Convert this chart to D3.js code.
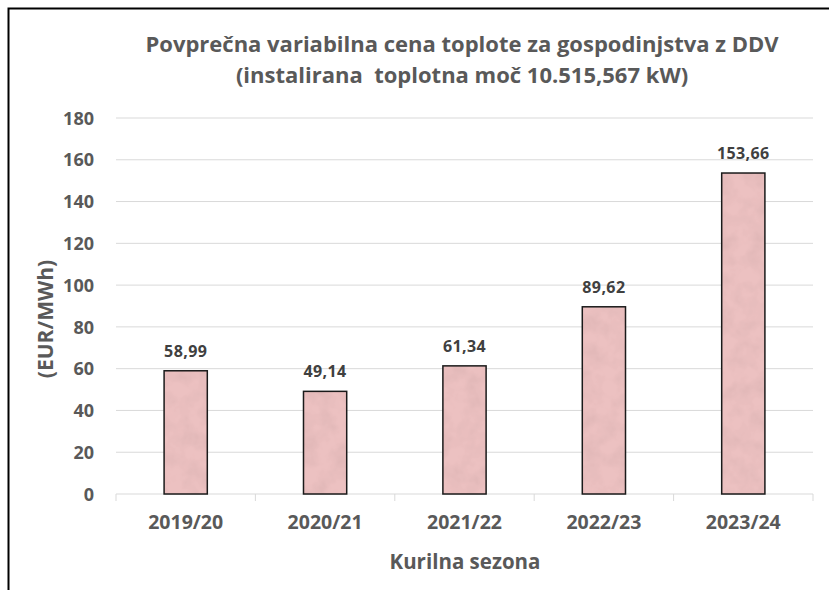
<!DOCTYPE html>
<html>
<head>
    <meta charset="utf-8">
    <title>Povprečna variabilna cena toplote</title>
    <script src="https://d3js.org/d3.v7.min.js"></script>
    <style>
        body { margin: 0; background: #fff; }
        svg { display: block; font-family: "Open Sans", sans-serif; }
    </style>
</head>
<body>
    <svg id="chart"></svg>

    <script>
        // data
        const seasons = ["2019/20", "2020/21", "2021/22", "2022/23", "2023/24"];
        const prices = [58.99, 49.14, 61.34, 89.62, 153.66];
        const yTicks = [0, 20, 40, 60, 80, 100, 120, 140, 160, 180];
        const titleLines = [
            "Povprečna variabilna cena toplote za gospodinjstva z DDV",
            "(instalirana  toplotna moč 10.515,567 kW)"
        ];

        // chart dimensions
        const width = 829;
        const height = 590;
        const margin = { top: 118, right: 16, bottom: 96, left: 116 };

        const svg = d3.select("#chart")
            .attr("width", width)
            .attr("height", height);

        // bar texture (soft tissue-paper look)
        const defs = svg.append("defs");
        const tex = defs.append("filter").attr("id", "tissue")
            .attr("x", 0).attr("y", 0).attr("width", 1).attr("height", 1);
        tex.append("feTurbulence")
            .attr("type", "fractalNoise")
            .attr("baseFrequency", 0.06)
            .attr("numOctaves", 3)
            .attr("seed", 4)
            .attr("result", "noise");
        tex.append("feColorMatrix")
            .attr("in", "noise")
            .attr("type", "matrix")
            .attr("values", "0 0 0 0 0.6  0 0 0 0 0.38  0 0 0 0 0.38  0 0 0 -0.7 0.45")
            .attr("result", "spots");
        tex.append("feComposite")
            .attr("in", "spots").attr("in2", "SourceGraphic")
            .attr("operator", "in").attr("result", "clipped");
        const merge = tex.append("feMerge");
        merge.append("feMergeNode").attr("in", "SourceGraphic");
        merge.append("feMergeNode").attr("in", "clipped");

        // outer frame
        svg.append("rect")
            .attr("x", 8.5).attr("y", 8.5)
            .attr("width", width + 20).attr("height", height + 20)
            .attr("fill", "none")
            .attr("stroke", "#000")
            .attr("stroke-width", 2);

        // scales
        const x = d3.scaleBand()
            .domain(seasons)
            .range([margin.left, width - margin.right]);

        const y = d3.scaleLinear()
            .domain([0, 180])
            .range([height - margin.bottom, margin.top]);

        // gridlines
        svg.append("g")
            .selectAll("line")
            .data(yTicks.filter(d => d > 0))
            .join("line")
            .attr("x1", margin.left)
            .attr("x2", width - margin.right)
            .attr("y1", d => y(d))
            .attr("y2", d => y(d))
            .attr("stroke", "#d9d9d9")
            .attr("stroke-width", 1);

        // y-axis labels
        svg.append("g")
            .attr("transform", `translate(${margin.left}, 0)`)
            .call(d3.axisLeft(y).tickValues(yTicks).tickSize(0).tickPadding(22))
            .call(g => g.select(".domain").remove())
            .selectAll("text")
            .attr("fill", "#595959")
            .attr("dy", "0.34em")
            .style("font-size", "18px")
            .style("font-weight", "700")
            .style("font-family", "'Open Sans', sans-serif");

        // x-axis
        const xAxis = svg.append("g")
            .attr("transform", `translate(0, ${y(0)})`);
        xAxis.append("line")
            .attr("x1", margin.left).attr("x2", width - margin.right)
            .attr("stroke", "#d9d9d9");
        xAxis.selectAll(".tick-mark")
            .data(seasons.concat([null]))
            .join("line")
            .attr("class", "tick-mark")
            .attr("x1", (d, i) => i < seasons.length ? x(d) : x(seasons[i - 1]) + x.bandwidth())
            .attr("x2", (d, i) => i < seasons.length ? x(d) : x(seasons[i - 1]) + x.bandwidth())
            .attr("y1", 0).attr("y2", 7)
            .attr("stroke", "#d9d9d9");
        xAxis.selectAll(".label")
            .data(seasons)
            .join("text")
            .attr("class", "label")
            .attr("x", d => x(d) + x.bandwidth() / 2)
            .attr("y", 35)
            .attr("text-anchor", "middle")
            .attr("fill", "#595959")
            .style("font-size", "19.5px")
            .style("font-weight", "700")
            .text(d => d);

        // bars
        const barW = x.bandwidth() * 0.31;
        const bars = svg.append("g")
            .selectAll("g")
            .data(seasons.map((s, i) => ({ season: s, value: prices[i] })))
            .join("g");

        bars.append("rect")
            .attr("x", d => x(d.season) + (x.bandwidth() - barW) / 2)
            .attr("y", d => y(d.value))
            .attr("width", barW)
            .attr("height", d => y(0) - y(d.value))
            .attr("fill", "#ecc1c1")
            .attr("filter", "url(#tissue)");

        bars.append("rect")
            .attr("x", d => x(d.season) + (x.bandwidth() - barW) / 2)
            .attr("y", d => y(d.value))
            .attr("width", barW)
            .attr("height", d => y(0) - y(d.value))
            .attr("fill", "none")
            .attr("stroke", "#1a1a1a")
            .attr("stroke-width", 1.5);

        // value labels
        bars.append("text")
            .attr("x", d => x(d.season) + x.bandwidth() / 2)
            .attr("y", d => y(d.value) - 14)
            .attr("text-anchor", "middle")
            .attr("fill", "#404040")
            .style("font-size", "16px")
            .style("font-weight", "700")
            .style("letter-spacing", "0.4px")
            .text(d => d3.format(".2f")(d.value).replace(".", ","));

        // title
        svg.append("text")
            .attr("x", 462)
            .attr("text-anchor", "middle")
            .attr("fill", "#595959")
            .style("font-size", "22px")
            .style("font-weight", "700")
            .selectAll("tspan")
            .data(titleLines)
            .join("tspan")
            .attr("x", 462)
            .attr("y", (d, i) => 52 + i * 31)
            .attr("xml:space", "preserve")
            .style("white-space", "pre")
            .text(d => d);

        // x-axis title
        svg.append("text")
            .attr("x", 465)
            .attr("y", 569)
            .attr("text-anchor", "middle")
            .attr("fill", "#595959")
            .style("font-size", "20.5px")
            .style("font-weight", "700")
            .text("Kurilna sezona");

        // y-axis title
        svg.append("text")
            .attr("transform", "rotate(-90)")
            .attr("x", -319)
            .attr("y", 53)
            .attr("text-anchor", "middle")
            .attr("fill", "#595959")
            .style("font-size", "21px")
            .style("font-weight", "700")
            .text("(EUR/MWh)");
    </script>
</body>
</html>
